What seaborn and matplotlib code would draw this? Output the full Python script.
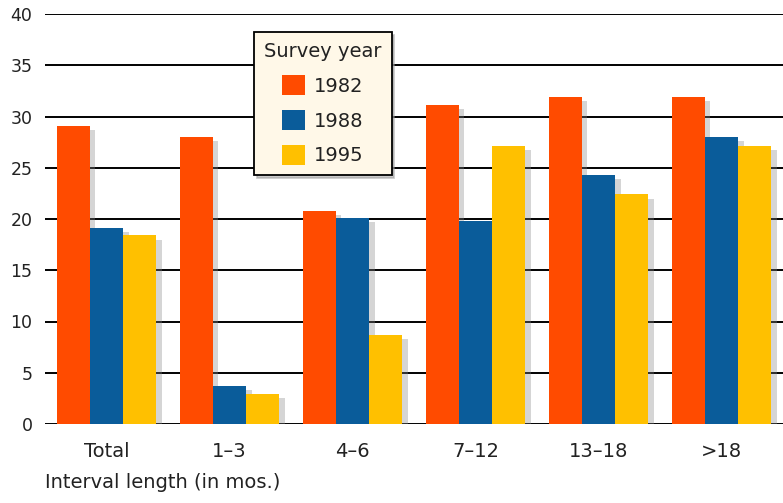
import matplotlib
matplotlib.use("Agg")
import matplotlib.pyplot as plt
import matplotlib.patheffects as pe
from matplotlib.patches import Patch
import seaborn as sns
import pandas as pd

categories = ["Total", "1\u20133", "4\u20136", "7\u201312", "13\u201318", ">18"]
years = ["1982", "1988", "1995"]
v1982 = [29.1, 28.0, 20.8, 31.1, 31.9, 31.9]
v1988 = [19.1, 3.7, 20.1, 19.8, 24.3, 28.0]
v1995 = [18.4, 2.9, 8.7, 27.1, 22.4, 27.1]
colors = ["#FF4B00", "#0A5C9A", "#FFC000"]
yticks = [0, 5, 10, 15, 20, 25, 30, 35, 40]

rows = []
for yr, vals in zip(years, [v1982, v1988, v1995]):
    for c, v in zip(categories, vals):
        rows.append({"cat": c, "year": yr, "val": v})
df = pd.DataFrame(rows)

sns.set_theme(style="white")
plt.rcParams["font.family"] = ["DejaVu Sans"]

fig = plt.figure(figsize=(7.83, 5.03), dpi=100)
ax = fig.add_axes([45 / 783, 1 - 424 / 503, 1 - 45 / 783, (424 - 14) / 503])

sns.barplot(data=df, x="cat", y="val", hue="year", order=categories,
            hue_order=years, palette=colors, width=0.81, saturation=1,
            ax=ax, legend=False, zorder=3)

for p in ax.patches:
    p.set_edgecolor("none")
    p.set_path_effects([pe.SimplePatchShadow(offset=(4, -3), shadow_rgbFace="#888888", alpha=0.35),
                        pe.Normal()])

ax.set_ylim(0, 40)
ax.set_xlim(-0.5, 5.5)
ax.set_yticks(yticks)
ax.set_yticklabels([str(t) for t in yticks])
ax.yaxis.grid(True, color="black", linewidth=1.4, zorder=1)
ax.set_axisbelow(True)
for s in ax.spines.values():
    s.set_visible(False)
ax.tick_params(axis="both", length=0, colors="#222222")
ax.tick_params(axis="y", pad=9, labelsize=12.5)
ax.tick_params(axis="x", pad=13, labelsize=14)
ax.set_xlabel("")
ax.set_ylabel("")
ax.set_facecolor("white")

fig.text(45 / 783, 1 - 488 / 503, "Interval length (in mos.)", ha="left", va="baseline",
         fontsize=14, color="#222222")

handles = [Patch(facecolor=c, edgecolor="none", label=y) for c, y in zip(colors, years)]
leg = fig.legend(handles=handles, title="Survey year", loc="upper left",
                 bbox_to_anchor=(254 / 783, 1 - 32 / 503), borderaxespad=0,
                 fontsize=14, title_fontsize=14,
                 frameon=True, fancybox=False, shadow={"color": "#999999", "alpha": 0.5},
                 handlelength=1.18, handleheight=1.23, handletextpad=0.42,
                 labelspacing=0.72, borderpad=0.52)
leg.get_frame().set_facecolor("#FFF8E8")
leg.get_frame().set_edgecolor("black")
leg.get_frame().set_linewidth(1.3)
leg.get_frame().set_alpha(1)
leg.set_zorder(10)
for t in leg.get_texts():
    t.set_color("#222222")
leg.get_title().set_color("#222222")

fig.savefig("out.png", dpi=100, facecolor="white")
